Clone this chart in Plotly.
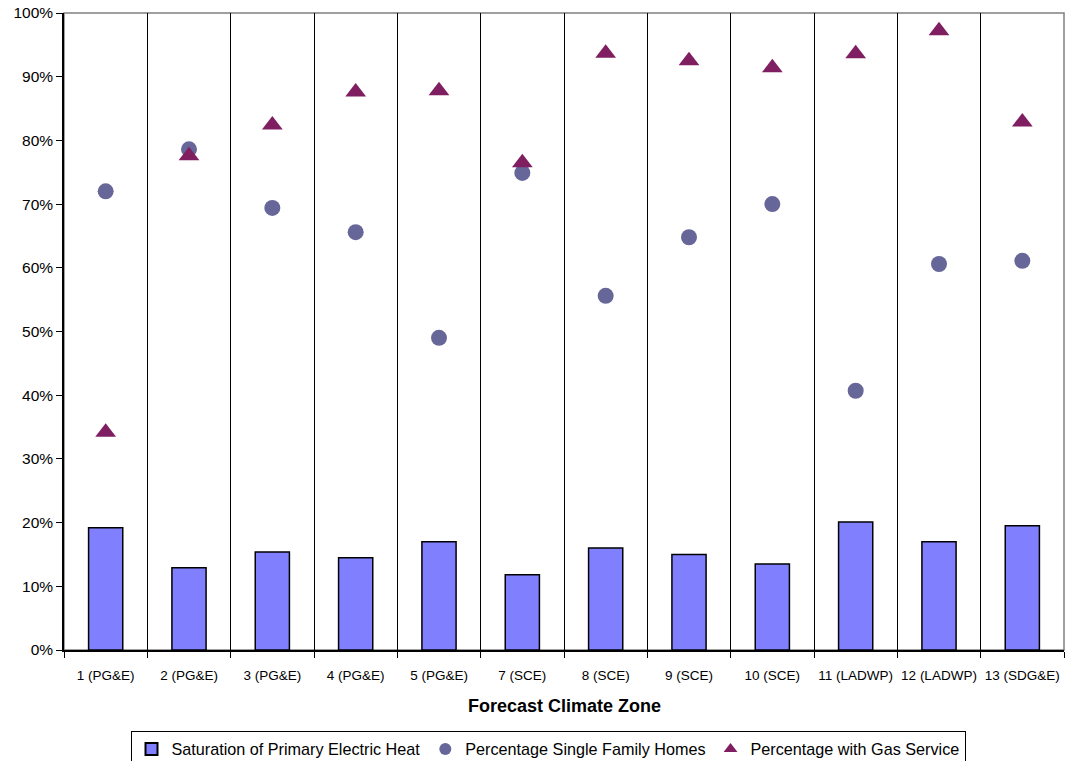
import plotly.graph_objects as go

zones = ["1 (PG&E)", "2 (PG&E)", "3 (PG&E)", "4 (PG&E)", "5 (PG&E)", "7 (SCE)",
         "8 (SCE)", "9 (SCE)", "10 (SCE)", "11 (LADWP)", "12 (LADWP)", "13 (SDG&E)"]
electric_heat = [19.2, 12.9, 15.4, 14.5, 17.0, 11.8, 16.0, 15.0, 13.5, 20.1, 17.0, 19.5]
single_family = [72.0, 78.6, 69.4, 65.6, 49.0, 74.9, 55.6, 64.8, 70.0, 40.7, 60.6, 61.1]
gas_service = [34.2, 77.6, 82.4, 87.6, 87.8, 76.5, 93.7, 92.5, 91.4, 93.6, 97.2, 82.9]

FONT = "Liberation Sans, Arial, sans-serif"

fig = go.Figure()
fig.add_trace(go.Bar(
    x=zones, y=electric_heat, name="Saturation of Primary Electric Heat",
    width=0.41, marker=dict(color="#8080FF", line=dict(color="black", width=1.5)),
))
fig.add_trace(go.Scatter(
    x=zones, y=single_family, name="Percentage Single Family Homes", mode="markers",
    marker=dict(symbol="circle", size=16, color="#666699"),
))
fig.add_trace(go.Scatter(
    x=zones, y=gas_service, name="Percentage with Gas Service", mode="markers",
    marker=dict(symbol="triangle-up", size=18, color="#7F1F62"),
))

fig.add_shape(type="rect", xref="paper", yref="paper", x0=0, y0=0, x1=1, y1=1,
              line=dict(color="#808080", width=1.5), layer="below")

fig.add_annotation(text="<b>Forecast Climate Zone</b>", xref="paper", yref="paper",
                   x=0.5, y=-0.088, xanchor="center", yanchor="middle", showarrow=False,
                   font=dict(size=18, family=FONT, color="black"))

fig.update_layout(
    width=1065, height=761,
    margin=dict(l=64, r=1, t=13, b=111, autoexpand=False),
    paper_bgcolor="white", plot_bgcolor="white",
    font=dict(family=FONT, color="black"),
    showlegend=True,
    legend=dict(
        orientation="h", xref="paper", x=0.484, xanchor="center",
        yref="container", y=0.0355 + 0.004, yanchor="top",
        bordercolor="black", borderwidth=1, bgcolor="white",
        font=dict(size=16.2, family=FONT), itemsizing="constant",
        tracegroupgap=0, itemwidth=30,
    ),
    xaxis=dict(
        type="category", range=[-0.5, 11.5], tickson="boundaries",
        showgrid=True, gridcolor="black", gridwidth=1,
        ticks="outside", ticklen=6, tickcolor="black",
        showline=True, linecolor="black", linewidth=1.5,
        tickangle=0, automargin=False, ticklabelstandoff=12,
        tickfont=dict(size=13.5, family=FONT),
    ),
    yaxis=dict(
        range=[0, 100], tickmode="array", tickvals=list(range(0, 101, 10)),
        ticktext=[f"{v}%" for v in range(0, 101, 10)],
        showgrid=False, zeroline=False, automargin=False,
        ticks="outside", ticklen=6, tickcolor="black",
        showline=True, linecolor="black", linewidth=1.5,
        tickfont=dict(size=15.5, family=FONT),
    ),
)

fig.write_html("out.html")
